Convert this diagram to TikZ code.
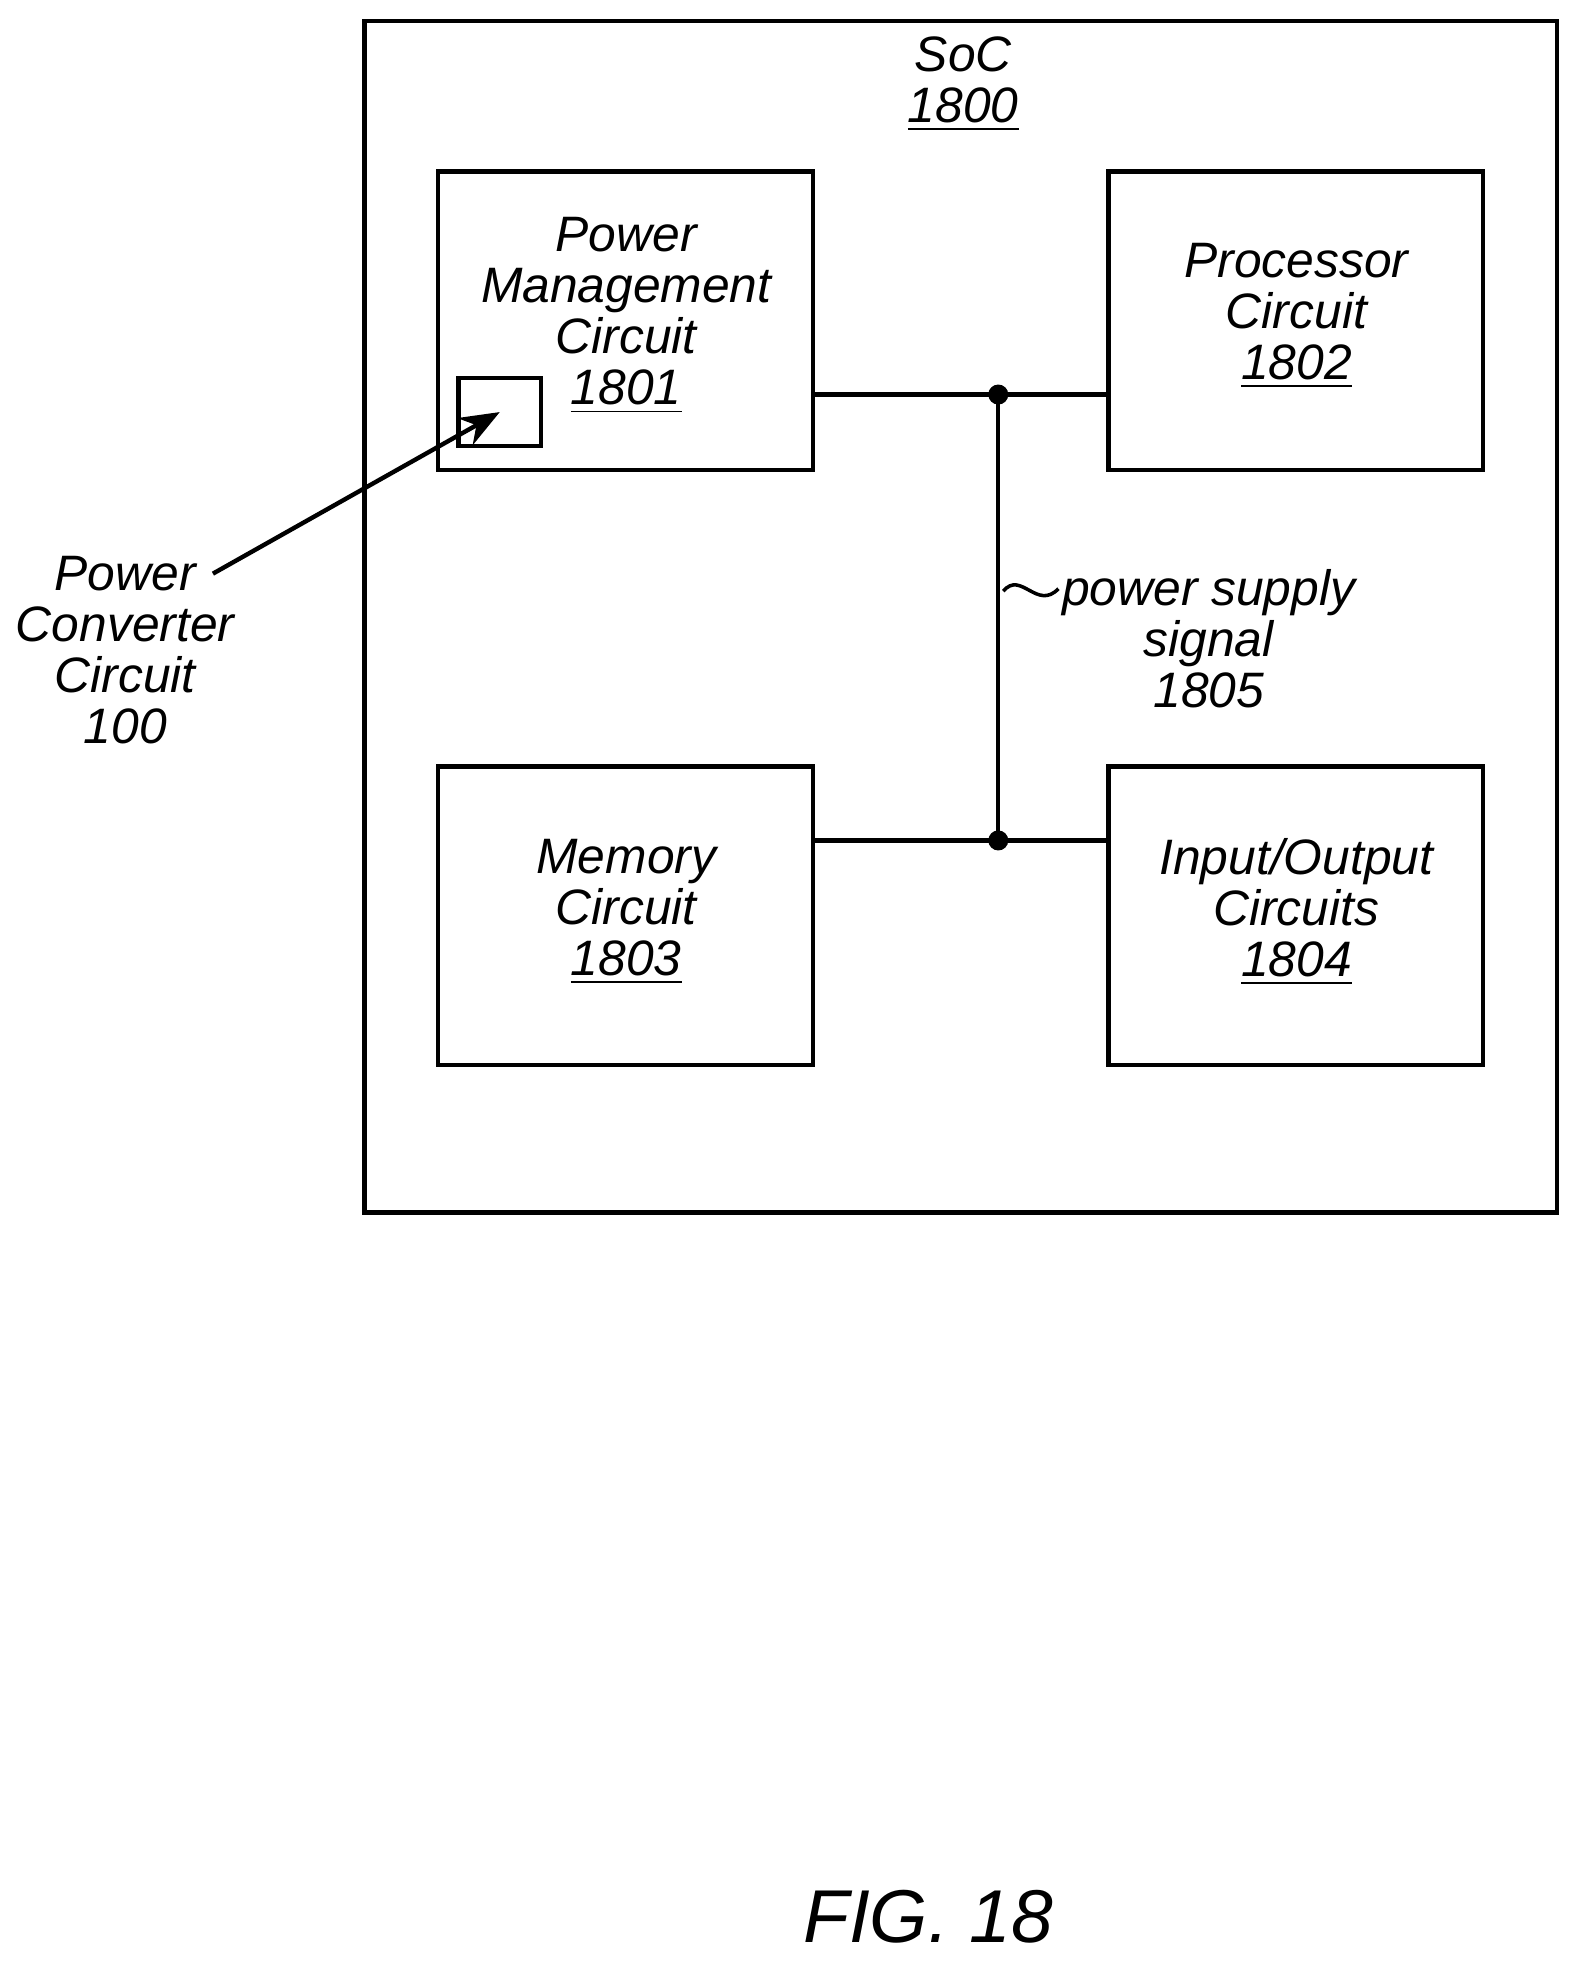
\documentclass[tikz,border=0pt]{standalone}
\usepackage{fontspec}
\setmainfont{Liberation Sans}
\usetikzlibrary{arrows.meta}
\tikzset{
  blk/.style={draw, line width=1pt},
  lbl/.style={font=\itshape\fontsize{11.3}{11.6}\selectfont, align=center, inner sep=0pt},
  wire/.style={line width=1pt},
}
\begin{document}
\begin{tikzpicture}[x=0.01cm, y=-0.01cm]
        % Cornice della pagina
        \useasboundingbox (0,0) rectangle (1270,1580);

        % --- Blocco SoC esterno ---
        \draw[blk] (291,17) rectangle (1243,968);
        \node[lbl] (soc) at (769,67) {SoC\\\underline{1800}};

        % --- Blocchi interni ---
        \node[blk, minimum width=2.99cm, minimum height=2.38cm] (pmc) at (499.5,256) {};
        \node[blk, minimum width=2.99cm, minimum height=2.38cm] (proc) at (1034.5,256) {};
        \node[blk, minimum width=2.99cm, minimum height=2.38cm] (mem) at (499.5,731) {};
        \node[blk, minimum width=2.99cm, minimum height=2.38cm] (io) at (1034.5,731) {};

        \node[lbl] at (500,252) {Power\\Management\\Circuit\\\underline{1801}};
        \node[lbl] at (1035,252) {Processor\\Circuit\\\underline{1802}};
        \node[lbl] at (500,728) {Memory\\Circuit\\\underline{1803}};
        \node[lbl] at (1035,728) {Input/Output\\Circuits\\\underline{1804}};

        % --- Convertitore dentro il blocco di gestione ---
        \node[blk, minimum width=0.66cm, minimum height=0.54cm, inner sep=0pt] (conv) at (399,329) {};
        \node[lbl] (convlbl) at (100,519) {Power\\Converter\\Circuit\\100};
        \coordinate (tail) at (170,458);
        \draw[wire, -{Stealth[length=9pt,width=7pt]}] (tail) -- (conv.center);

        % --- Bus di alimentazione ---
        \coordinate (top) at (797,315);
        \coordinate (bot) at (797,671);
        \draw[wire] (pmc.east |- top) -- (top) -- (proc.west |- top);
        \draw[wire] (mem.east |- bot) -- (bot) -- (io.west |- bot);
        \draw[wire] (top) -- (bot);
        \fill (top) circle (8);
        \fill (bot) circle (8);

        \node[lbl] (psig) at (965,510) {power supply\\signal\\1805};
        \draw[line width=0.8pt] (801,472) .. controls (815,455) and (828,488) .. (845,470);

        % --- Didascalia ---
        \node[font=\itshape\fontsize{17}{20}\selectfont, inner sep=0pt] (fig) at (741,1530) {FIG. 18};
    \end{tikzpicture}
\end{document}
